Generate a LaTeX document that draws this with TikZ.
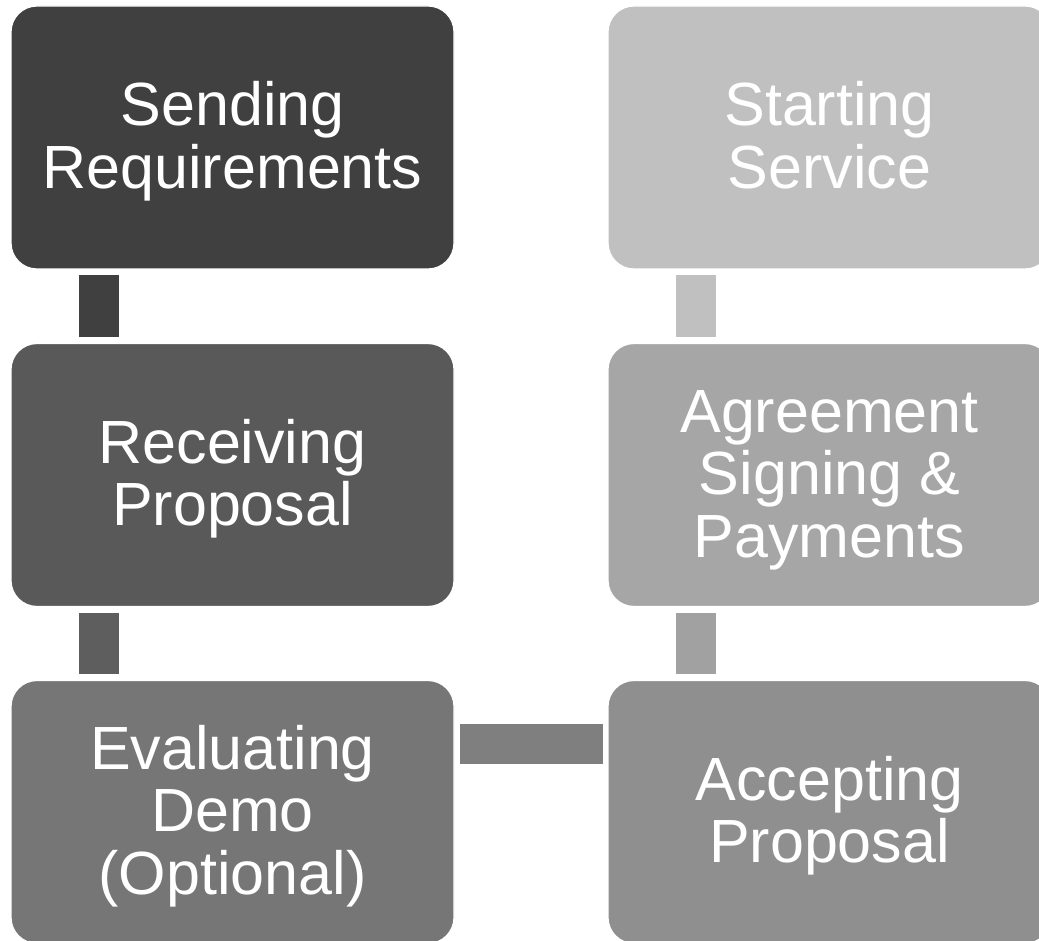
\documentclass[tikz,border=0pt]{standalone}
\usepackage{fontspec}
\setmainfont{Liberation Sans}
\usetikzlibrary{calc}
\definecolor{cA}{HTML}{404040}
\definecolor{cB}{HTML}{595959}
\definecolor{cC}{HTML}{767676}
\definecolor{cD}{HTML}{8F8F8F}
\definecolor{cE}{HTML}{A6A6A6}
\definecolor{cF}{HTML}{C0C0C0}
\definecolor{kA}{HTML}{404040}
\definecolor{kB}{HTML}{5E5E5E}
\definecolor{kC}{HTML}{7F7F7F}
\definecolor{kD}{HTML}{A1A1A1}
\definecolor{kE}{HTML}{C0C0C0}
\newcommand\tstrut{\rule{0pt}{52pt}}
\newcommand\bstrut{\rule[-13pt]{0pt}{13pt}}
\tikzset{
  stagebox/.style={rectangle, rounded corners=26pt, minimum width=443pt, minimum height=263pt,
    inner sep=0pt, outer sep=0pt, draw=white, line width=1.2pt, text=white, align=center,
    font=\fontsize{61}{62.5}\selectfont},
  linkbar/.style={draw=white, line width=1pt}
}
\begin{document}
\begin{tikzpicture}[x=1pt,y=-1pt]
\useasboundingbox (0,0) rectangle (1039,941);
\fill[white] (0,0) rectangle (1039,941);
% boxes
\node[stagebox, fill=cA] (s1) at (232.5,137.5) {\tstrut Sending\\Requirements\bstrut};
\node[stagebox, fill=cB] (s2) at (232.5,475) {\tstrut Receiving\\Proposal\bstrut};
\node[stagebox, fill=cC] (s3) at (232.5,812) {\tstrut Evaluating\\Demo\\(Optional)\bstrut};
\node[stagebox, fill=cD] (s4) at (829.5,812) {\tstrut Accepting\\Proposal\bstrut};
\node[stagebox, fill=cE] (s5) at (829.5,475) {\tstrut Agreement\\Signing \&\\Payments\bstrut};
\node[stagebox, fill=cF] (s6) at (829.5,137.5) {\tstrut Starting\\Service\bstrut};
% connectors
\filldraw[linkbar, fill=kA] ($(s1.south west)+(67,6)$) rectangle ($(s2.north west)+(108,-6)$);
\filldraw[linkbar, fill=kB] ($(s2.south west)+(67,6)$) rectangle ($(s3.north west)+(108,-6)$);
\filldraw[linkbar, fill=kC] ($(s3.north east)+(5,43)$) rectangle ($(s4.north west)+(-5,84)$);
\filldraw[linkbar, fill=kD] ($(s5.south west)+(67,6)$) rectangle ($(s4.north west)+(108,-6)$);
\filldraw[linkbar, fill=kE] ($(s6.south west)+(67,6)$) rectangle ($(s5.north west)+(108,-6)$);
\end{tikzpicture}
\end{document}
